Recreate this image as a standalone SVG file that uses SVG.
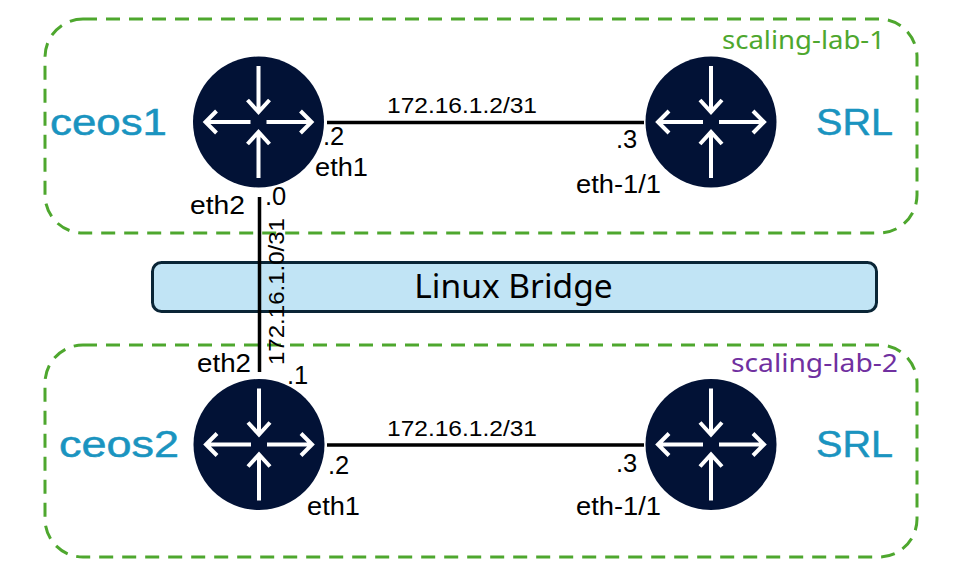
<svg xmlns="http://www.w3.org/2000/svg" width="961" height="583" viewBox="0 0 961 583">
<style>
.lab{fill:none;stroke:#4ea72e;stroke-width:3;stroke-dasharray:14 9}
.lnk{stroke:#000;stroke-width:3.500;fill:none}
.t{font-family:"Liberation Sans",Arial,sans-serif;font-size:25.500px;fill:#000}
.s{font-size:22.500px}
.name{font-family:"Liberation Sans",Arial,sans-serif;font-size:37px;fill:#1a94c0;stroke:#1a94c0;stroke-width:.5}
.grp{font-family:"Noto Sans","Liberation Sans",sans-serif;font-size:26px}
.ar{fill:none;stroke:#fff;stroke-width:4}
</style>
<defs>
<g id="router">
<circle r="65.500" fill="#021236"/>
<path class="ar" d="M0-56V-10M-11-22L0-10L11-22M0 56V10M-11 22L0 10L11 22M-8 0H-53M-42-11L-53 0L-42 11M8 0H53M42-11L53 0L42 11"/>
</g>
</defs>
<g id="lab1"><rect class="lab" x="45" y="19" width="872" height="214" rx="38"/><text class="grp" x="722" y="49" fill="#4ea72e" textLength="163" lengthAdjust="spacingAndGlyphs">scaling-lab-1</text></g>
<g id="lab2"><rect class="lab" x="45" y="345" width="872" height="212" rx="38"/><text class="grp" x="731" y="372" fill="#7030a0" textLength="167" lengthAdjust="spacingAndGlyphs">scaling-lab-2</text></g>
<g id="bridge"><rect x="152.500" y="262.500" width="724" height="49" rx="9" fill="#c1e4f5" stroke="#0a2536" stroke-width="3"/><text x="513.500" y="298" text-anchor="middle" font-family="Noto Sans,Liberation Sans,sans-serif" font-size="33.500" fill="#000">Linux Bridge</text></g>
<g id="connectors">
<path class="lnk" d="M327 122.500H644M327 445H644M259.500 197V372"/>
</g>
<g id="ceos1"><use href="#router" x="258.500" y="122"/><text class="name" x="50" y="135" textLength="117" lengthAdjust="spacingAndGlyphs">ceos1</text></g>
<g id="srl1"><use href="#router" x="711" y="122"/><text class="name" x="816" y="135" textLength="77" lengthAdjust="spacingAndGlyphs">SRL</text></g>
<g id="ceos2"><use href="#router" x="259" y="444.500"/><text class="name" x="59" y="457" textLength="120" lengthAdjust="spacingAndGlyphs">ceos2</text></g>
<g id="srl2"><use href="#router" x="711" y="444.500"/><text class="name" x="816" y="457" textLength="77" lengthAdjust="spacingAndGlyphs">SRL</text></g>
<g id="labels">
<text class="t s" x="387" y="113" textLength="150" lengthAdjust="spacingAndGlyphs">172.16.1.2/31</text>
<text class="t s" x="387" y="436" textLength="150" lengthAdjust="spacingAndGlyphs">172.16.1.2/31</text>
<text class="t" x="323" y="145">.2</text>
<text class="t" x="315" y="176" textLength="53" lengthAdjust="spacingAndGlyphs">eth1</text>
<text class="t" x="616" y="148">.3</text>
<text class="t" x="576" y="193" textLength="85" lengthAdjust="spacingAndGlyphs">eth-1/1</text>
<text class="t" x="190" y="214" textLength="55" lengthAdjust="spacingAndGlyphs">eth2</text>
<text class="t" x="265" y="205">.0</text>
<text class="t" x="197" y="372" textLength="54" lengthAdjust="spacingAndGlyphs">eth2</text>
<text class="t" x="287" y="384">.1</text>
<text class="t" x="328" y="474">.2</text>
<text class="t" x="307" y="515" textLength="53" lengthAdjust="spacingAndGlyphs">eth1</text>
<text class="t" x="616" y="472">.3</text>
<text class="t" x="576" y="515" textLength="85" lengthAdjust="spacingAndGlyphs">eth-1/1</text>
<text class="t s" transform="translate(284 365) rotate(-90)" textLength="147" lengthAdjust="spacingAndGlyphs">172.16.1.0/31</text>
</g>
</svg>
